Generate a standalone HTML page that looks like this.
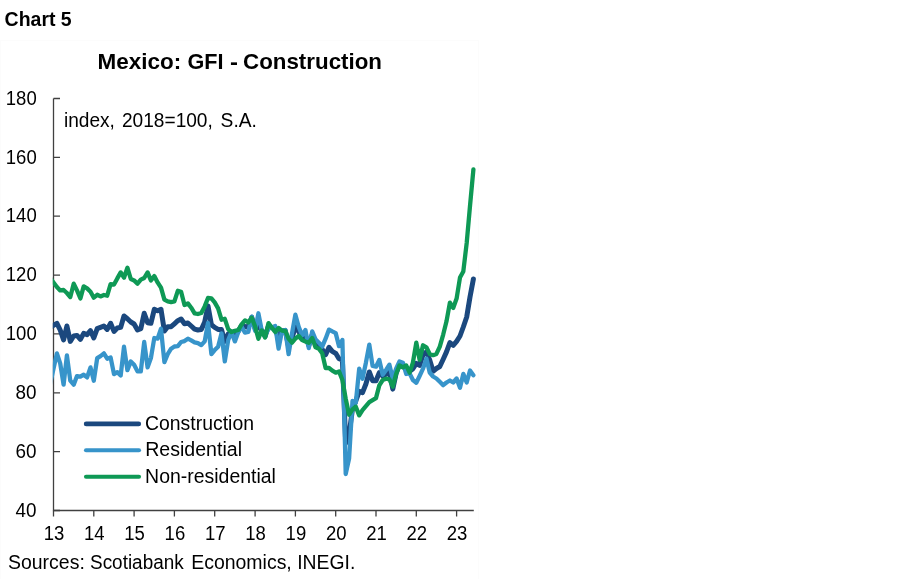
<!DOCTYPE html>
<html lang="en"><head><meta charset="utf-8"><title>Chart 5 - Mexico: GFI - Construction</title>
<style>
html,body{margin:0;padding:0;background:#fff;}
body{width:899px;height:579px;overflow:hidden;font-family:"Liberation Sans",Arial,sans-serif;}
svg{display:block;}
text{font-family:"Liberation Sans",Arial,sans-serif;fill:#000;}
.t,.t text{font-size:20px;}
.h{font-size:21.6px;font-weight:bold;}
.l{font-size:19.4px;}
.c{font-size:20px;font-weight:bold;}
</style></head><body>
<svg width="899" height="579" viewBox="0 0 899 579">
<rect width="899" height="579" fill="#fff"/>
<rect x="0.5" y="40.4" width="478" height="560" fill="none" stroke="#fcfcfc" stroke-width="1"/>
<path d="M53.5 98.5V510.5H473.8" fill="none" stroke="#404040" stroke-width="1.3"/>
<path d="M53.5 510.5H60 M53.5 451.6H60 M53.5 392.8H60 M53.5 333.9H60 M53.5 275.1H60 M53.5 216.2H60 M53.5 157.4H60 M53.5 98.5H60 M53.5 510.5V516.5 M93.8 510.5V516.5 M134.1 510.5V516.5 M174.4 510.5V516.5 M214.7 510.5V516.5 M255.1 510.5V516.5 M295.4 510.5V516.5 M335.7 510.5V516.5 M376.0 510.5V516.5 M416.3 510.5V516.5 M456.6 510.5V516.5 " fill="none" stroke="#404040" stroke-width="1.3"/>
<g class="t"><text x="15.4" y="516.6" textLength="21.0" lengthAdjust="spacingAndGlyphs">40</text><text x="15.4" y="457.7" textLength="21.0" lengthAdjust="spacingAndGlyphs">60</text><text x="15.4" y="398.9" textLength="21.0" lengthAdjust="spacingAndGlyphs">80</text><text x="5.8" y="340.0" textLength="30.9" lengthAdjust="spacingAndGlyphs">100</text><text x="5.8" y="281.2" textLength="30.9" lengthAdjust="spacingAndGlyphs">120</text><text x="5.8" y="222.3" textLength="30.9" lengthAdjust="spacingAndGlyphs">140</text><text x="5.8" y="163.5" textLength="30.9" lengthAdjust="spacingAndGlyphs">160</text><text x="5.8" y="105.1" textLength="30.9" lengthAdjust="spacingAndGlyphs">180</text><text x="43.7" y="539.6" textLength="20.6" lengthAdjust="spacingAndGlyphs">13</text><text x="84.0" y="539.6" textLength="20.6" lengthAdjust="spacingAndGlyphs">14</text><text x="124.3" y="539.6" textLength="20.6" lengthAdjust="spacingAndGlyphs">15</text><text x="164.6" y="539.6" textLength="20.6" lengthAdjust="spacingAndGlyphs">16</text><text x="204.9" y="539.6" textLength="20.6" lengthAdjust="spacingAndGlyphs">17</text><text x="245.2" y="539.6" textLength="20.6" lengthAdjust="spacingAndGlyphs">18</text><text x="285.6" y="539.6" textLength="20.6" lengthAdjust="spacingAndGlyphs">19</text><text x="325.9" y="539.6" textLength="20.6" lengthAdjust="spacingAndGlyphs">20</text><text x="366.2" y="539.6" textLength="20.6" lengthAdjust="spacingAndGlyphs">21</text><text x="406.5" y="539.6" textLength="20.6" lengthAdjust="spacingAndGlyphs">22</text><text x="446.8" y="539.6" textLength="20.6" lengthAdjust="spacingAndGlyphs">23</text></g>
<clipPath id="cp"><rect x="52.8" y="90" width="430" height="421"/></clipPath><g clip-path="url(#cp)">
<polyline points="50.1,327.4 53.5,325.4 56.9,323.3 60.2,330.0 63.6,340.0 66.9,326.0 70.3,341.4 73.7,336.0 77.0,335.4 80.4,339.4 83.7,333.4 87.1,334.7 90.5,330.7 93.8,338.0 97.2,328.7 100.5,327.4 103.9,326.0 107.2,329.4 110.6,323.3 114.0,331.4 117.3,328.0 120.7,327.4 124.0,316.0 127.4,318.7 130.8,322.0 134.1,324.0 137.5,330.0 140.8,328.7 144.2,313.3 147.6,322.7 150.9,323.3 154.3,309.3 157.6,310.8 161.0,309.3 164.4,331.0 167.7,326.7 171.1,326.7 174.4,323.8 177.8,320.7 181.1,319.0 184.5,323.8 187.9,323.0 191.2,326.0 194.6,329.1 197.9,330.0 201.3,329.6 204.7,322.0 208.0,306.0 211.4,324.7 214.7,327.4 218.1,329.4 221.5,329.6 224.8,341.4 228.2,334.0 231.5,332.1 234.9,336.1 238.3,331.0 241.6,325.5 245.0,326.5 248.3,327.2 251.7,317.2 255.1,328.5 258.4,326.1 261.8,330.5 265.1,336.4 268.5,325.9 271.8,327.5 275.2,329.0 278.6,338.4 281.9,331.0 285.3,330.5 288.6,346.4 292.0,338.0 295.4,326.7 298.7,331.4 302.1,337.7 305.4,335.7 308.8,345.4 312.2,334.7 315.5,343.4 318.9,345.7 322.2,349.3 325.6,354.7 329.0,347.3 332.3,351.3 335.7,353.3 339.0,358.7 342.4,360.0 345.7,443.0 349.1,434.0 352.5,409.0 355.8,401.0 359.2,391.4 362.5,392.7 365.9,384.0 369.3,372.0 372.6,380.7 376.0,380.7 379.3,372.7 382.7,376.0 386.1,374.0 389.4,372.0 392.8,389.1 396.1,373.4 399.5,364.7 402.9,366.0 406.2,368.7 409.6,371.4 412.9,368.7 416.3,363.4 419.6,365.4 423.0,354.7 426.4,351.9 429.7,359.9 433.1,371.2 436.4,368.5 439.8,366.5 443.2,359.2 446.5,351.9 449.9,342.6 453.2,345.3 456.6,341.3 460.0,336.0 463.3,327.0 466.7,317.0 470.0,297.0 473.4,279.0" fill="none" stroke="#1b487e" stroke-width="5.0" stroke-linejoin="round" stroke-linecap="round"/>
<polyline points="50.1,384.1 53.5,368.7 56.9,353.4 60.2,363.4 63.6,384.7 66.9,355.4 70.3,380.7 73.7,384.7 77.0,376.1 80.4,376.7 83.7,374.7 87.1,377.4 90.5,367.4 93.8,380.7 97.2,358.1 100.5,356.1 103.9,353.4 107.2,358.7 110.6,357.4 114.0,374.1 117.3,372.1 120.7,375.4 124.0,346.7 127.4,370.1 130.8,361.4 134.1,364.7 137.5,371.4 140.8,371.4 144.2,342.0 147.6,367.4 150.9,358.1 154.3,338.0 157.6,338.7 161.0,328.7 164.4,362.1 167.7,354.1 171.1,348.7 174.4,346.5 177.8,346.1 181.1,342.0 184.5,341.1 187.9,338.7 191.2,340.4 194.6,342.4 197.9,343.1 201.3,345.1 204.7,341.4 208.0,323.0 211.4,354.1 214.7,350.1 218.1,346.7 221.5,333.4 224.8,361.4 228.2,340.0 231.5,332.0 234.9,341.4 238.3,332.0 241.6,326.7 245.0,332.7 248.3,332.0 251.7,316.7 255.1,330.7 258.4,313.3 261.8,330.7 265.1,335.4 268.5,328.7 271.8,327.4 275.2,326.0 278.6,348.7 281.9,331.4 285.3,330.0 288.6,354.1 292.0,333.4 295.4,314.7 298.7,326.7 302.1,335.4 305.4,330.0 308.8,348.1 312.2,331.4 315.5,339.4 318.9,342.7 322.2,346.7 325.6,338.7 329.0,329.6 332.3,331.4 335.7,333.1 339.0,346.1 342.4,340.0 345.7,474.0 349.1,458.6 352.5,401.0 355.8,402.8 359.2,368.7 362.5,378.7 365.9,362.7 369.3,344.7 372.6,366.0 376.0,366.7 379.3,360.0 382.7,374.7 386.1,370.0 389.4,364.7 392.8,378.7 396.1,368.7 399.5,361.4 402.9,362.7 406.2,374.0 409.6,373.4 412.9,380.0 416.3,382.7 419.6,376.0 423.0,368.7 426.4,358.6 429.7,372.5 433.1,376.5 436.4,378.5 439.8,381.8 443.2,385.2 446.5,382.5 449.9,380.5 453.2,382.5 456.6,378.5 460.0,387.8 463.3,373.9 466.7,382.5 470.0,370.5 473.4,375.2" fill="none" stroke="#3794ca" stroke-width="4.3" stroke-linejoin="round" stroke-linecap="round"/>
<polyline points="50.1,277.7 53.5,282.4 56.9,287.0 60.2,290.4 63.6,290.0 66.9,293.0 70.3,297.0 73.7,283.7 77.0,290.4 80.4,298.4 83.7,286.4 87.1,288.4 90.5,291.7 93.8,297.7 97.2,294.8 100.5,296.4 103.9,295.0 107.2,295.7 110.6,284.1 114.0,284.6 117.3,278.4 120.7,272.4 124.0,277.7 127.4,267.7 130.8,279.0 134.1,280.4 137.5,283.7 140.8,279.7 144.2,278.0 147.6,272.4 150.9,280.4 154.3,276.1 157.6,282.4 161.0,287.7 164.4,299.7 167.7,301.4 171.1,302.1 174.4,301.4 177.8,290.8 181.1,291.7 184.5,305.0 187.9,303.4 191.2,307.7 194.6,313.4 197.9,314.0 201.3,313.0 204.7,306.4 208.0,298.0 211.4,298.4 214.7,302.4 218.1,308.4 221.5,319.7 224.8,318.8 228.2,329.1 231.5,332.1 234.9,330.8 238.3,330.0 241.6,324.4 245.0,320.4 248.3,322.4 251.7,317.7 255.1,326.4 258.4,338.8 261.8,330.4 265.1,337.5 268.5,323.1 271.8,327.7 275.2,332.0 278.6,328.0 281.9,330.7 285.3,331.0 288.6,338.7 292.0,342.7 295.4,338.7 298.7,336.0 302.1,340.0 305.4,341.4 308.8,342.7 312.2,338.0 315.5,347.3 318.9,348.7 322.2,353.3 325.6,368.0 329.0,368.0 332.3,370.7 335.7,372.7 339.0,371.4 342.4,380.0 345.7,398.7 349.1,414.7 352.5,409.4 355.8,406.7 359.2,415.4 362.5,410.1 365.9,406.1 369.3,402.1 372.6,400.1 376.0,398.1 379.3,385.4 382.7,380.0 386.1,378.7 389.4,379.4 392.8,386.7 396.1,374.0 399.5,365.4 402.9,367.4 406.2,365.4 409.6,372.7 412.9,362.7 416.3,342.7 419.6,359.9 423.0,345.3 426.4,347.3 429.7,353.9 433.1,355.2 436.4,353.9 439.8,346.6 443.2,334.6 446.5,321.3 449.9,302.6 453.2,308.0 456.6,298.6 460.0,277.5 463.3,271.5 466.7,243.0 470.0,206.0 473.4,169.5" fill="none" stroke="#0e9955" stroke-width="4.3" stroke-linejoin="round" stroke-linecap="round"/>
</g>
<path d="M86.2 423.9H138.7" stroke="#1b487e" stroke-width="4.8" stroke-linecap="round"/>
<path d="M86 450.2H139" stroke="#3794ca" stroke-width="4.1" stroke-linecap="round"/>
<path d="M86 476.7H139" stroke="#0e9955" stroke-width="4.1" stroke-linecap="round"/>
<text class="h" y="69.0"><tspan x="97.6" textLength="83.7" lengthAdjust="spacingAndGlyphs">Mexico:</tspan> <tspan x="187.5" textLength="36.0" lengthAdjust="spacingAndGlyphs">GFI</tspan> <tspan x="230.0" textLength="8.0" lengthAdjust="spacingAndGlyphs">-</tspan> <tspan x="243.0" textLength="139.0" lengthAdjust="spacingAndGlyphs">Construction</tspan></text>
<text class="t" y="127.2"><tspan x="64.0" textLength="50.9" lengthAdjust="spacingAndGlyphs">index,</tspan> <tspan x="122.0" textLength="90.8" lengthAdjust="spacingAndGlyphs">2018=100,</tspan> <tspan x="220.6" textLength="36.3" lengthAdjust="spacingAndGlyphs">S.A.</tspan></text>
<text class="l" y="429.7"><tspan x="145.0" textLength="109.0" lengthAdjust="spacingAndGlyphs">Construction</tspan></text>
<text class="l" y="456.3"><tspan x="145.2" textLength="96.8" lengthAdjust="spacingAndGlyphs">Residential</tspan></text>
<text class="l" y="482.7"><tspan x="145.1" textLength="130.8" lengthAdjust="spacingAndGlyphs">Non-residential</tspan></text>
<text class="t" y="569.1"><tspan x="8.0" textLength="76.8" lengthAdjust="spacingAndGlyphs">Sources:</tspan> <tspan x="90.0" textLength="93.7" lengthAdjust="spacingAndGlyphs">Scotiabank</tspan> <tspan x="191.2" textLength="100.6" lengthAdjust="spacingAndGlyphs">Economics,</tspan> <tspan x="297.2" textLength="58.1" lengthAdjust="spacingAndGlyphs">INEGI.</tspan></text>
<text class="c" x="4.6" y="26.0" textLength="67.1" lengthAdjust="spacingAndGlyphs">Chart 5</text>
</svg>
</body></html>
